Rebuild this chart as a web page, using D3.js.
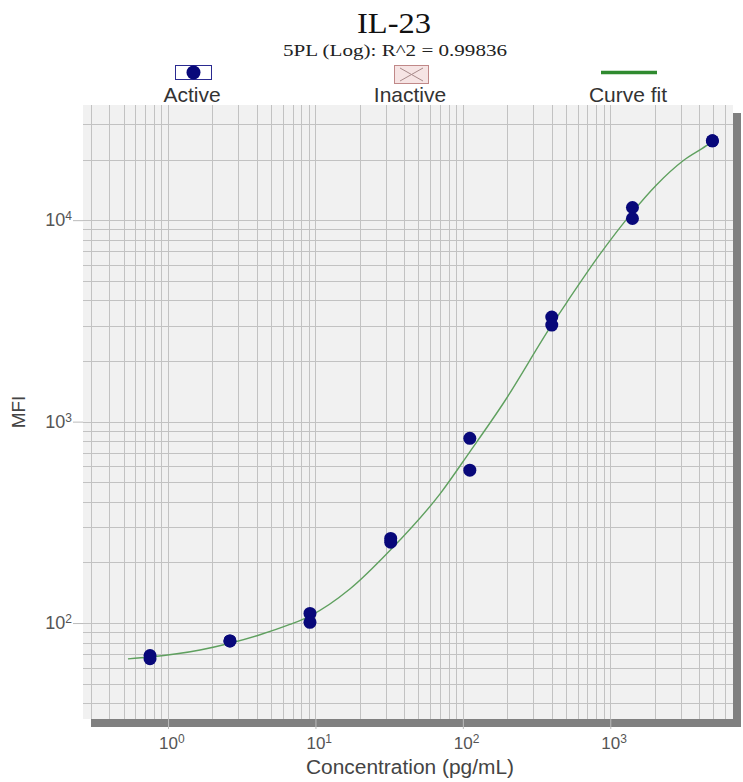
<!DOCTYPE html>
<html>
<head>
<meta charset="utf-8">
<script src="https://cdn.jsdelivr.net/npm/d3@7/dist/d3.min.js"></script>
<style>
  body { margin: 0; background: #fff; }
  text { font-family: "Liberation Sans", Arial, sans-serif; }
</style>
</head>
<body>
<svg id="chart" width="743" height="782"></svg>
<script>
// standard concentrations (pg/mL), two replicates each
var concentrations = [4930, 1414, 401, 111.5, 32.4, 9.18, 2.63, 0.755];
var mfiRep1 = [24770, 11560, 3303, 826, 263, 111.7, 81.5, 69];
var mfiRep2 = [24770, 10190, 3013, 574, 252, 100.8, 81.5, 66.5];

// curve fit
var fitConc = [0.535, 0.755, 1.65, 2.63, 4.2, 6.7, 9.18, 17.2, 32, 69.8, 111.5, 187.7, 401, 505, 849, 1414, 2057, 3118, 4487, 4930];
var fitMfi = [66.4, 67.8, 73.5, 79.4, 87.5, 98.4, 108.4, 147.9, 229, 436.5, 708, 1230, 3020, 3890, 6761, 10965, 14962, 19724, 23442, 24660];

var xTickValues = [1, 10, 100, 1000];
var yTickValues = [100, 1000, 10000];
var legendLabels = ["Active", "Inactive", "Curve fit"];

var titleText = "IL-23";
var subtitleText = "5PL (Log): R^2 = 0.99836";
var xTitle = "Concentration (pg/mL)";
var yTitle = "MFI";

var serif = "'Liberation Serif', 'Times New Roman', serif";
var svg = d3.select("#chart");
var plot = { left: 83, top: 105, right: 733, bottom: 719 };

var x = d3.scaleLog().domain([0.265, 6800]).range([plot.left, plot.right]);
var y = d3.scaleLog().domain([33.4, 37300]).range([plot.bottom, plot.top]);

// drop shadow right/bottom
svg.append("rect")
    .attr("x", plot.left + 8)
    .attr("y", plot.top + 8)
    .attr("width", plot.right - plot.left)
    .attr("height", plot.bottom - plot.top)
    .attr("fill", "#808080");

svg.append("rect")
    .attr("x", plot.left)
    .attr("y", plot.top)
    .attr("width", plot.right - plot.left)
    .attr("height", plot.bottom - plot.top)
    .attr("fill", "#f1f1f1");

// grid
var grid = svg.append("g").attr("shape-rendering", "crispEdges");
grid.selectAll(".vgrid")
    .data(x.ticks())
    .enter().append("line")
    .attr("class", "vgrid")
    .attr("x1", function (d) { return Math.round(x(d)) + 0.5; })
    .attr("x2", function (d) { return Math.round(x(d)) + 0.5; })
    .attr("y1", plot.top)
    .attr("y2", plot.bottom)
    .attr("stroke", "#c2c2c2");
grid.selectAll(".hgrid")
    .data(y.ticks())
    .enter().append("line")
    .attr("class", "hgrid")
    .attr("y1", function (d) { return Math.round(y(d)) + 0.5; })
    .attr("y2", function (d) { return Math.round(y(d)) + 0.5; })
    .attr("x1", plot.left)
    .attr("x2", plot.right)
    .attr("stroke", "#c2c2c2");

// axes (ticks only, labels drawn below with superscripts)
var xAxis = svg.append("g")
    .attr("transform", "translate(0," + plot.bottom + ")")
    .call(d3.axisBottom(x).tickValues(xTickValues).tickSize(10).tickFormat(""));
xAxis.select(".domain").remove();
xAxis.selectAll("line").attr("stroke", "#bbb");

var yAxis = svg.append("g")
    .attr("transform", "translate(" + plot.left + ",0)")
    .call(d3.axisLeft(y).tickValues(yTickValues).tickSize(10).tickFormat(""));
yAxis.select(".domain").remove();
yAxis.selectAll("line").attr("stroke", "#bbb");

var expOf = function (d) { return Math.round(Math.log10(d)); };

var xLabels = svg.append("g").selectAll("text")
    .data(xTickValues)
    .enter().append("text")
    .attr("x", function (d) { return x(d) - 9; })
    .attr("y", 749)
    .attr("font-size", "17px")
    .attr("fill", "#555");
xLabels.append("tspan").text("10");
xLabels.append("tspan").attr("dy", -6).attr("font-size", "12px").text(expOf);

var yLabels = svg.append("g").selectAll("text")
    .data(yTickValues)
    .enter().append("text")
    .attr("x", 72)
    .attr("y", function (d) { return y(d) + 6; })
    .attr("text-anchor", "end")
    .attr("font-size", "18px")
    .attr("fill", "#555");
yLabels.append("tspan").text("10");
yLabels.append("tspan").attr("dy", -6).attr("font-size", "12px").text(expOf);

svg.append("text")
    .attr("x", 410)
    .attr("y", 774)
    .attr("text-anchor", "middle")
    .attr("font-size", "20px")
    .attr("textLength", 208)
    .attr("lengthAdjust", "spacingAndGlyphs")
    .attr("fill", "#444")
    .text(xTitle);

svg.append("text")
    .attr("transform", "translate(25," + (plot.top + plot.bottom) / 2 + ") rotate(-90)")
    .attr("text-anchor", "middle")
    .attr("font-size", "19px")
    .attr("fill", "#444")
    .text(yTitle);

// curve fit
var fitData = fitConc.map(function (c, i) { return [c, fitMfi[i]]; });
var line = d3.line()
    .x(function (d) { return x(d[0]); })
    .y(function (d) { return y(d[1]); })
    .curve(d3.curveMonotoneX);
svg.append("path")
    .datum(fitData)
    .attr("d", line)
    .attr("fill", "none")
    .attr("stroke", "#5fa05f")
    .attr("stroke-width", 1.4);

// points
var points = [];
concentrations.forEach(function (c, i) {
    points.push([c, mfiRep1[i]]);
    points.push([c, mfiRep2[i]]);
});
svg.append("g").selectAll("circle")
    .data(points)
    .enter().append("circle")
    .attr("cx", function (d) { return x(d[0]); })
    .attr("cy", function (d) { return y(d[1]); })
    .attr("r", 6.5)
    .attr("fill", "#08087a");

// titles
svg.append("text")
    .attr("x", 394)
    .attr("y", 33)
    .attr("text-anchor", "middle")
    .attr("textLength", 74)
    .attr("lengthAdjust", "spacingAndGlyphs")
    .style("font-family", serif)
    .attr("font-size", "29px")
    .attr("fill", "#111")
    .text(titleText);
svg.append("text")
    .attr("x", 395)
    .attr("y", 56)
    .attr("text-anchor", "middle")
    .attr("textLength", 224)
    .attr("lengthAdjust", "spacingAndGlyphs")
    .style("font-family", serif)
    .attr("font-size", "17px")
    .attr("fill", "#222")
    .text(subtitleText);

// legend
var legendX = [192, 410, 628];
var legend = svg.append("g");
legend.selectAll("text")
    .data(legendLabels)
    .enter().append("text")
    .attr("x", function (d, i) { return legendX[i]; })
    .attr("y", 102)
    .attr("text-anchor", "middle")
    .attr("font-size", "21px")
    .attr("fill", "#333")
    .text(function (d) { return d; });

legend.append("rect")
    .attr("x", 175.5).attr("y", 65.5).attr("width", 36).attr("height", 14)
    .attr("fill", "#fff").attr("stroke", "#2a2a90");
legend.append("circle")
    .attr("cx", 193.5).attr("cy", 72.5).attr("r", 7)
    .attr("fill", "#08087a");

legend.append("rect")
    .attr("x", 394.5).attr("y", 65.5).attr("width", 34).attr("height", 18)
    .attr("fill", "#f6e4e4").attr("stroke", "#c08888");
legend.append("path")
    .attr("d", "M400,68L423,81M423,68L400,81")
    .attr("stroke", "#a88a8a").attr("fill", "none");

legend.append("line")
    .attr("x1", 601).attr("x2", 657).attr("y1", 72.5).attr("y2", 72.5)
    .attr("stroke", "#2f8a2f").attr("stroke-width", 3.5);
</script>
</body>
</html>
